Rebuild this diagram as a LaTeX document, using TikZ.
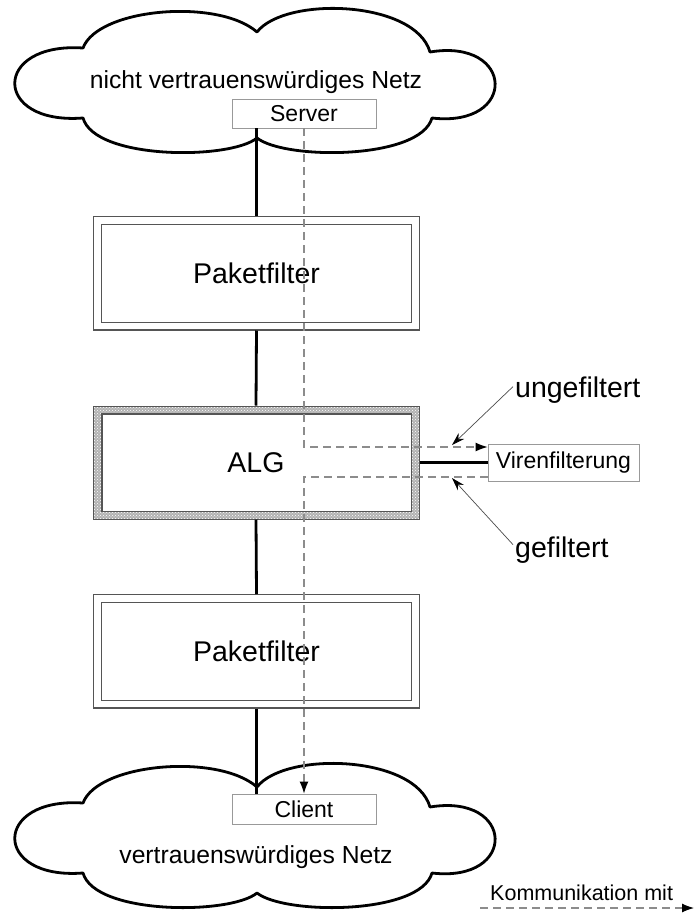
\documentclass[tikz,border=0pt]{standalone}
\usepackage{fontspec}
\setmainfont{Liberation Sans}
\usetikzlibrary{arrows.meta,backgrounds,calc,patterns,positioning}
\definecolor{netzGray}{HTML}{555555}
\definecolor{kommGray}{HTML}{8C8C8C}
\tikzset{
  wolke/.pic={
    \draw[line width=2.8pt, line join=round, fill=white]
      (83,48) .. controls (98,8) and (218,-2) .. (257,32)
      .. controls (285,-4) and (415,0) .. (430,52)
      .. controls (515,38) and (518,128) .. (432,118)
      .. controls (420,160) and (285,160) .. (257,138)
      .. controls (230,160) and (95,160) .. (83,118)
      .. controls (-8,125) and (-8,42) .. cycle;
  },
  netzText/.style={font=\fontsize{24.7}{29}\selectfont, inner sep=1pt},
  hostBox/.style={
    draw=gray!80, fill=white, line width=0.9pt,
    minimum width=144pt, minimum height=29pt,
    inner sep=0pt, outer sep=0.45pt,
    font=\fontsize{23}{27}\selectfont
  },
  filterBox/.style={
    draw=netzGray, line width=1.4pt, double=white, double distance=6.2pt,
    fill=white, minimum width=318pt, minimum height=105.5pt,
    inner sep=0pt, outer sep=4.5pt,
    font=\fontsize{28.5}{34}\selectfont
  },
  algBox/.style={
    draw=netzGray, line width=1pt,
    preaction={fill=gray!60},
    preaction={pattern=crosshatch dots, pattern color=white},
    minimum width=326pt, minimum height=113pt,
    inner sep=0pt, outer sep=0.5pt,
    font=\fontsize{28.5}{34}\selectfont,
    path picture={
      \draw[fill=white, line width=1.8pt]
        ([shift={(9pt,7.5pt)}]path picture bounding box.south west)
        rectangle ([shift={(-7.5pt,-8pt)}]path picture bounding box.north east);
    }
  },
  leitung/.style={line width=2.8pt, black},
  komm/.style={kommGray, line width=1.1pt, dash pattern=on 8pt off 5pt,
    -{Latex[length=12pt,width=9pt,black,fill=black]}},
  hinweis/.style={gray!60!black, line width=0.7pt,
    -{Stealth[length=13pt,width=8pt,black,fill=black]}},
  hinweisText/.style={font=\fontsize{28.5}{34}\selectfont, inner sep=2pt},
  legende/.style={font=\fontsize{21.5}{26}\selectfont, inner sep=2pt}
}
\begin{document}
\begin{tikzpicture}[x=1pt,y=-1pt]
  \useasboundingbox[fill=white] (0,0) rectangle (694,913);

  % Netze
  \pic at (0,0) {wolke};
  \pic at (0,755) {wolke};
  \node[netzText, anchor=base] (untrusted) at (256,88) {nicht vertrauenswürdiges Netz};
  \node[netzText, anchor=base] (trusted) at (256,863) {vertrauenswürdiges Netz};

  \node[hostBox] (Server) at (304,113.5) {Server};
  \node[hostBox, minimum height=30pt] (Client) at (304,809) {Client};

  % Firewall
  \node[filterBox] (PF1) at (256.5,273.25) {Paketfilter};
  \node[algBox] (ALG) at (256,462.5) {ALG};
  \node[filterBox] (PF2) at (256.5,651.25) {Paketfilter};
  \node[hostBox, minimum width=151pt, minimum height=37pt] (Viren)
    at (563.5,462.5) {Virenfilterung};

  \draw[leitung] (Server.south -| PF1.north) -- (PF1.north);
  \draw[leitung] (PF1.south) -- (ALG.north);
  \draw[leitung] (ALG.south) -- (PF2.north);
  \draw[leitung] (PF2.south) -- (PF2.south |- Client.north);
  \draw[leitung] (ALG.east) -- (Viren.west);

  % Kommunikation
  \draw[komm] (Server.south) |- ([yshift=15.5pt]Viren.west);
  \draw[komm] ([yshift=-14.5pt]Viren.west) -| (Client.north);

  \node[hinweisText, anchor=base west] (ungef) at (513,397) {ungefiltert};
  \node[hinweisText, anchor=base west] (gef) at (513,557) {gefiltert};
  \coordinate (ungefTip) at (452,445);
  \coordinate (gefTip) at (452,478);
  \draw[hinweis] ([yshift=3pt]ungef.west) -- (ungefTip);
  \draw[hinweis] ([yshift=5pt]gef.west) -- (gefTip);

  % Legende
  \node[legende, anchor=base west] (legend) at (488,900) {Kommunikation mit};
  \coordinate (legendStart) at (480,908);
  \coordinate (legendEnd) at (694,908);
  \draw[komm] (legendStart) -- (legendEnd);
\end{tikzpicture}
\end{document}
